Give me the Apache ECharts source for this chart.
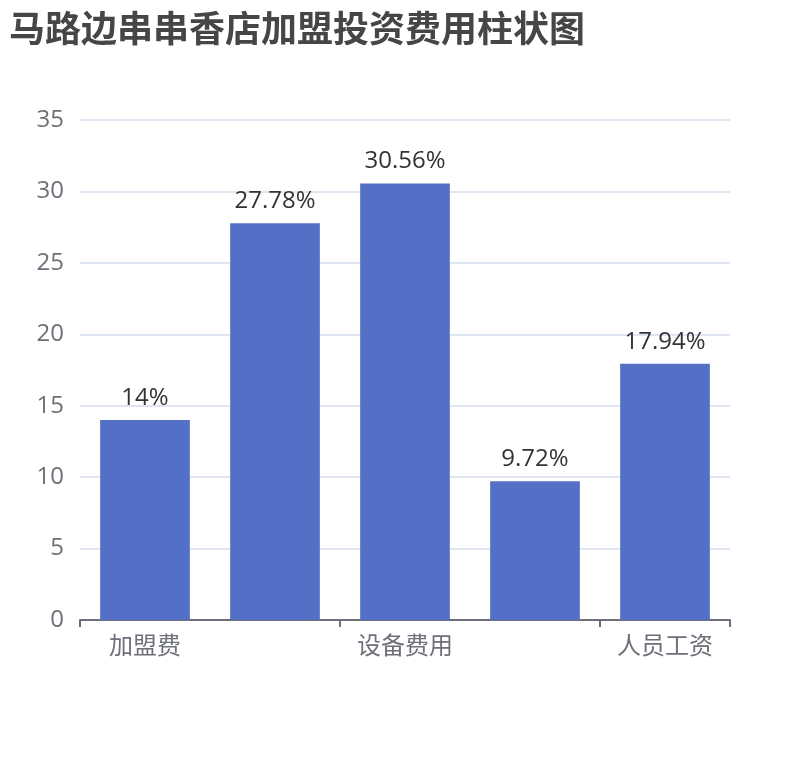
<!DOCTYPE html>
<html>
<head>
<meta charset="utf-8">
<script src="https://cdn.jsdelivr.net/npm/echarts@6/dist/echarts.min.js"></script>
<style>html,body{margin:0;padding:0;background:#fff;}#main{width:810px;height:760px;}</style>
</head>
<body>
<div id="main"></div>
<script>
const titleText = '马路边串串香店加盟投资费用柱状图';
const categories = ['加盟费', '店面租金', '设备费用', '装修费用', '人员工资'];
const values = [14, 27.78, 30.56, 9.72, 17.94];
const yTicks = { min: 0, max: 35, interval: 5 };

const FONT = "'Open Sans', 'Noto Sans CJK SC', sans-serif";
const chart = echarts.init(document.getElementById('main'));
chart.setOption({
  animation: false,
  title: {
    text: titleText,
    left: 4, top: 5,
    textStyle: { fontSize: 36, fontWeight: 'bold', color: '#464646', fontFamily: 'Noto Sans CJK SC' }
  },
  grid: { left: 80, right: 80, top: 120, bottom: 140 },
  xAxis: {
    type: 'category',
    data: categories,
    axisLabel: { interval: 1, fontSize: 24, color: '#6e7079', margin: 15, fontFamily: FONT },
    axisLine: { lineStyle: { color: '#6e7079', width: 2 } },
    axisTick: { show: true, interval: 1, lineStyle: { color: '#6e7079', width: 2 }, length: 7 }
  },
  yAxis: {
    type: 'value',
    min: yTicks.min, max: yTicks.max, interval: yTicks.interval,
    axisLabel: { fontSize: 24, color: '#6e7079', margin: 16, fontFamily: FONT },
    splitLine: { lineStyle: { color: '#e0e6f1', width: 2 } }
  },
  series: [{
    type: 'bar',
    data: values,
    barWidth: '69%',
    itemStyle: { color: '#5470c6' },
    label: {
      show: true, position: 'top', distance: 10,
      fontSize: 24, color: '#333', fontFamily: FONT,
      formatter: p => p.value + '%'
    }
  }]
});
</script>
</body>
</html>
